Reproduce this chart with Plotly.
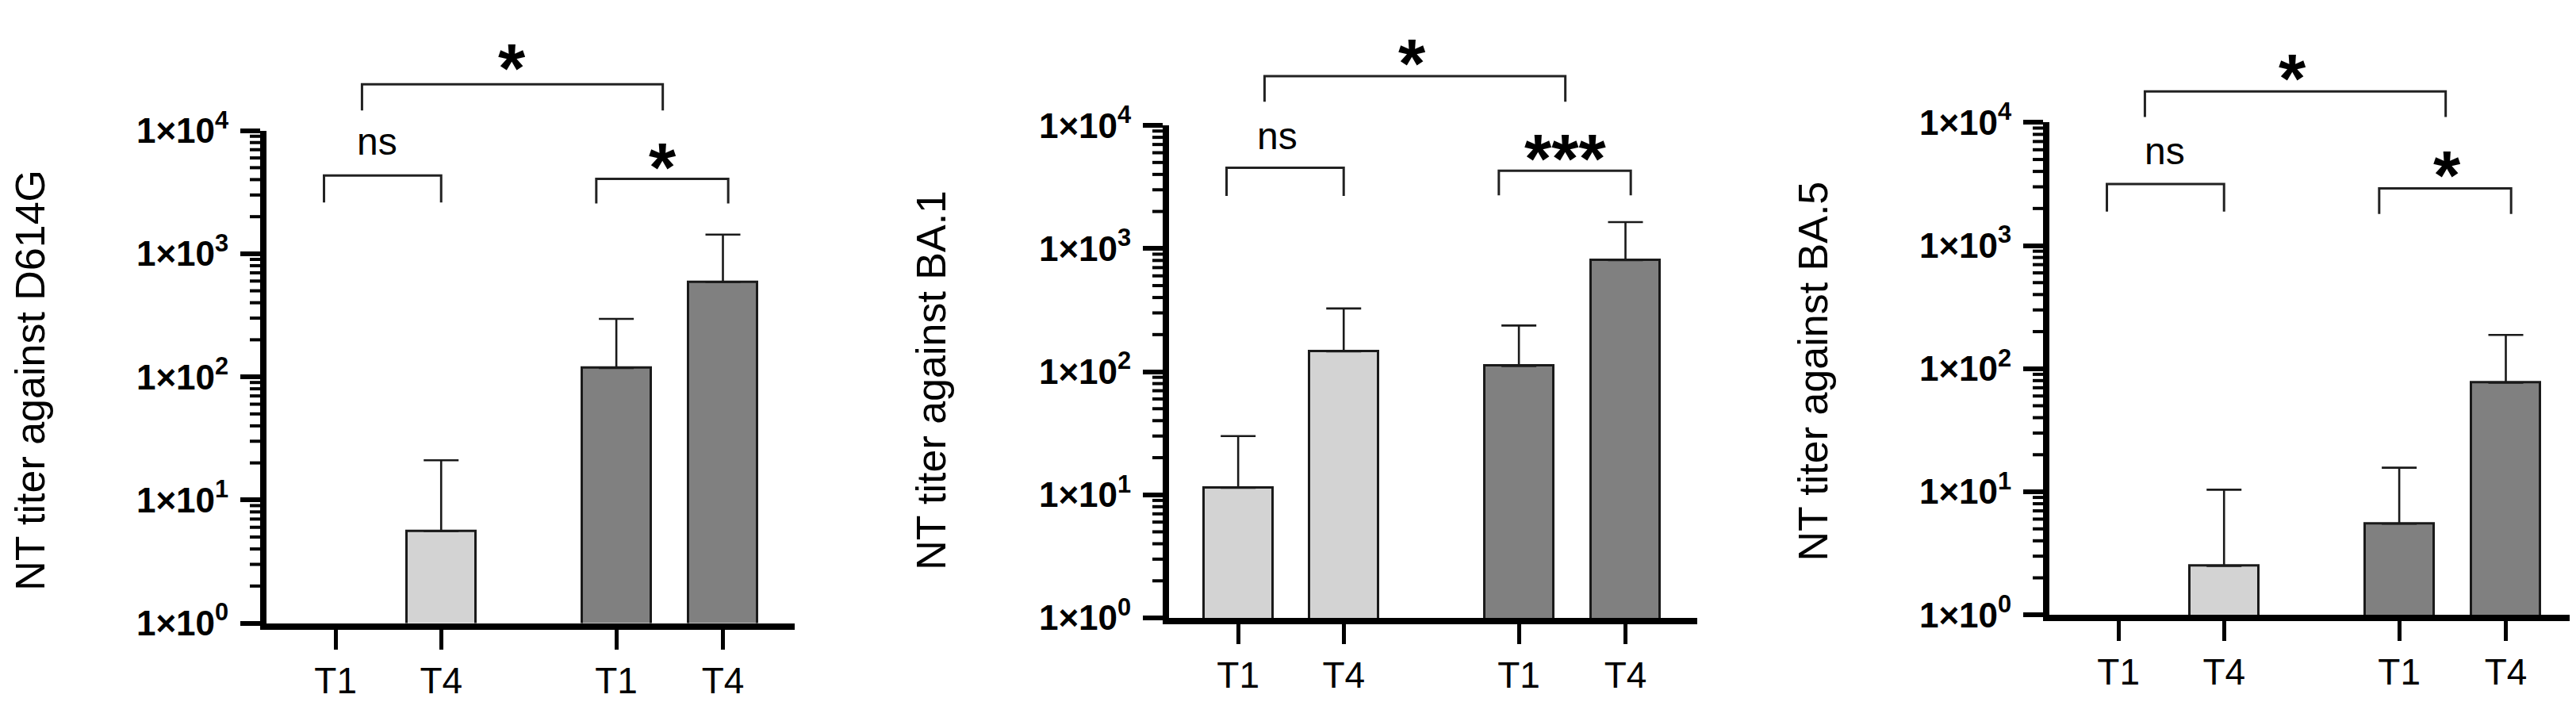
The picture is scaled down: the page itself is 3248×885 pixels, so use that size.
import math
import plotly.graph_objects as go

# ---- data ----
categories = ["T1", "T4", "T1", "T4"]
bar_fill = ["#d3d3d3", "#d3d3d3", "#808080", "#808080"]

panel_titles = ["NT titer against D614G", "NT titer against BA.1", "NT titer against BA.5"]

d614g_mean = [None, 5.6, 118, 590]
d614g_upper = [None, 21, 296, 1430]

ba1_mean = [11.4, 146, 111, 806]
ba1_upper = [30, 326, 237, 1640]

ba5_mean = [None, 2.5, 5.5, 77]
ba5_upper = [None, 10.4, 15.7, 188]

# significance labels: (T1 vs T4 across groups, first pair, second pair)
d614g_sig = ["*", "ns", "*"]
ba1_sig = ["*", "ns", "***"]
ba5_sig = ["*", "ns", "*"]

y_tickvals = [1, 10, 100, 1000, 10000]
y_ticktext = ["1×10<sup>0</sup>", "1×10<sup>1</sup>", "1×10<sup>2</sup>",
              "1×10<sup>3</sup>", "1×10<sup>4</sup>"]
y_minor = [m * 10 ** d for d in range(4) for m in range(2, 10)]

# ---- layout ----
W, H = 3248, 885
FONT = "Liberation Sans"
x_pos = [0, 1, 2.66, 3.67]
XR = [-0.655, 4.35]
YR = [0, 4]
AXIS_LW = 8
MINOR_LEN = 13

# plot area in px: left, right, top(1e4), bottom(1e0)
panel_px = [(328, 994, 134, 796), (1466, 2132, 127, 789), (2576, 3242, 123, 785)]
title_px = [(30, 470), (1166, 470), (2278, 458)]

# brackets (x in axis units, y in domain fraction): x0, x1, y_bar, y_leg
bracket_x = [(0.25, 3.1), (-0.11, 1.0), (2.47, 3.72)]
bracket_y = [
    [(1.094, 1.041), (0.909, 0.854), (0.902, 0.852)],
    [(1.100, 1.048), (0.914, 0.857), (0.908, 0.858)],
    [(1.063, 1.011), (0.875, 0.819), (0.866, 0.814)],
]
label_pos = [
    [(1.67, 1.160), (0.39, 0.982), (3.10, 0.959)],
    [(1.65, 1.159), (0.37, 0.983), (3.10, 0.965)],
    [(1.65, 1.122), (0.44, 0.947), (3.11, 0.926)],
]

# map plotly's default log tick strings onto the "1×10^n" labels
label_alias = {}
for v, t in zip(y_tickvals, y_ticktext):
    label_alias[str(v)] = t
label_alias["10,000"] = y_ticktext[-1]
label_alias["10k"] = y_ticktext[-1]
label_alias["1k"] = y_ticktext[-2]


def xd(u):
    return (u - XR[0]) / (XR[1] - XR[0])


def yd(v):
    return (math.log10(v) - YR[0]) / (YR[1] - YR[0])


means = [d614g_mean, ba1_mean, ba5_mean]
uppers = [d614g_upper, ba1_upper, ba5_upper]
sigs = [d614g_sig, ba1_sig, ba5_sig]

fig = go.Figure()
shapes = []
annotations = []

for i in range(3):
    n = "" if i == 0 else str(i + 1)
    xa, ya = "x" + n, "y" + n
    plus = [None if m is None else u - m for m, u in zip(means[i], uppers[i])]
    left, right, top, bottom = panel_px[i]
    width_px = right - left

    fig.add_trace(go.Bar(
        x=x_pos, y=means[i], width=0.654,
        marker=dict(color=bar_fill, line=dict(color="#1a1a1a", width=3)),
        error_y=dict(type="data", symmetric=False, array=plus,
                     arrayminus=[0] * 4, color="#1a1a1a", thickness=2.6, width=22),
        xaxis=xa, yaxis=ya, showlegend=False, hoverinfo="skip",
    ))

    fig.layout["xaxis" + n] = dict(
        domain=[left / W, right / W], anchor=ya, range=XR,
        tickmode="array", tickvals=x_pos, ticktext=categories,
        ticks="outside", ticklen=25, tickwidth=5, tickcolor="black",
        showline=True, linewidth=AXIS_LW, linecolor="black",
        showgrid=False, zeroline=False, fixedrange=True,
        tickfont=dict(family=FONT, size=46, color="black"),
    )
    fig.layout["yaxis" + n] = dict(
        domain=[(H - bottom) / H, (H - top) / H], anchor=xa,
        type="log", range=YR,
        tickmode="linear", tick0=0, dtick=1, exponentformat="none",
        labelalias=label_alias,
        ticks="outside", ticklen=25, tickwidth=6, tickcolor="black",
        showline=True, linewidth=AXIS_LW, linecolor="black",
        showgrid=False, zeroline=False, fixedrange=True,
        ticklabelstandoff=6,
        tickfont=dict(family=FONT, size=44, color="black", weight="bold"),
    )

    # minor log ticks outside the y axis line
    for v in y_minor:
        shapes.append(dict(
            type="line", xref=xa + " domain", yref=ya + " domain",
            x0=-AXIS_LW / width_px, x1=-(AXIS_LW + MINOR_LEN) / width_px,
            y0=yd(v), y1=yd(v), line=dict(color="black", width=4),
        ))

    for (u0, u1), (yb, yl) in zip(bracket_x, bracket_y[i]):
        shapes.append(dict(
            type="path", xref=xa + " domain", yref=ya + " domain",
            path=f"M {xd(u0)},{yl} L {xd(u0)},{yb} L {xd(u1)},{yb} L {xd(u1)},{yl}",
            line=dict(color="#222222", width=3),
        ))

    for (u, yv), label in zip(label_pos[i], sigs[i]):
        star = label != "ns"
        annotations.append(dict(
            x=u, y=yv, xref=xa, yref=ya + " domain", text=label,
            showarrow=False, xanchor="center", yanchor="middle",
            yshift=-20 if star else -3,
            font=dict(family=FONT, size=88 if star else 48, color="black",
                      weight="bold" if star else "normal"),
        ))

    tx, ty = title_px[i]
    annotations.append(dict(
        x=tx / W, y=(H - ty) / H, xref="paper", yref="paper",
        text=panel_titles[i], textangle=-90, showarrow=False,
        xanchor="center", yanchor="middle",
        font=dict(family=FONT, size=52, color="black"),
    ))

fig.update_layout(
    width=W, height=H, autosize=False,
    margin=dict(l=0, r=0, t=0, b=0),
    paper_bgcolor="white", plot_bgcolor="white",
    bargap=0, shapes=shapes, annotations=annotations,
)

fig.write_html("out.html", config={"displayModeBar": False})
